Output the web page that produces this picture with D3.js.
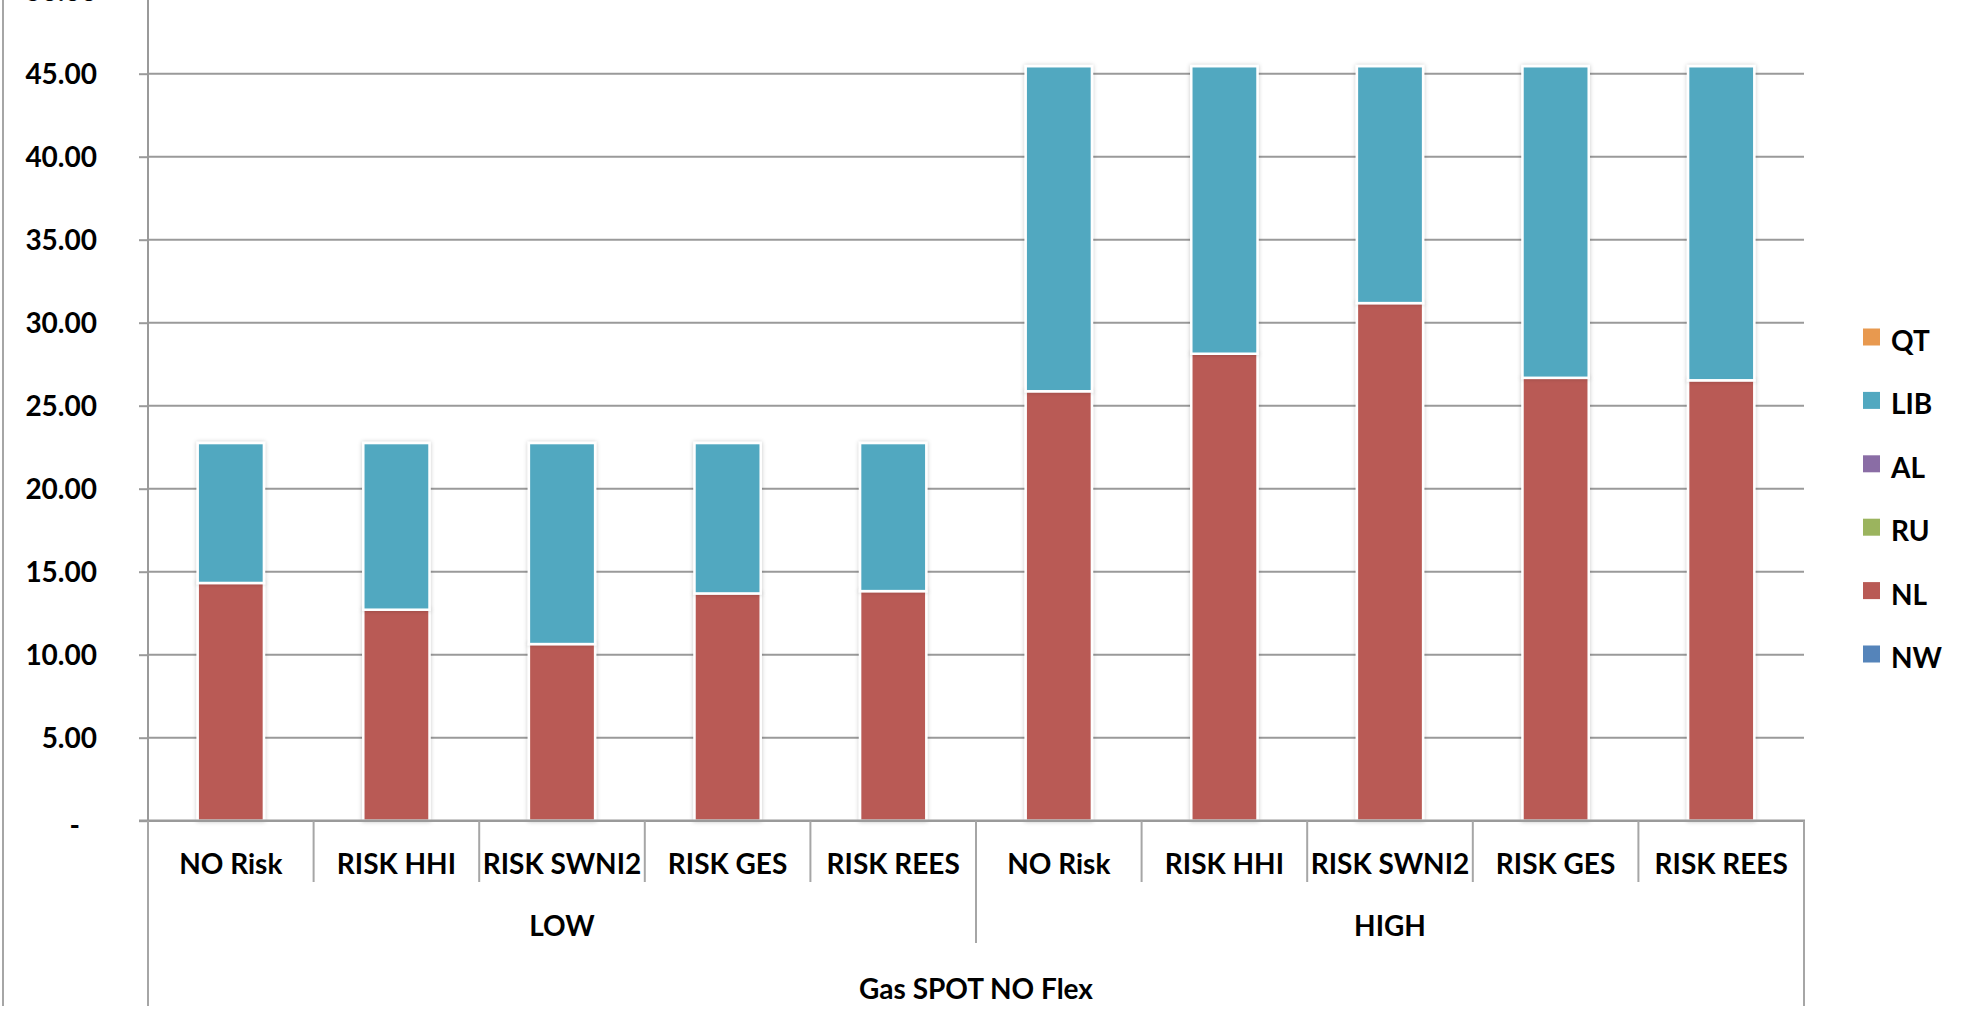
<!DOCTYPE html>
<html><head><meta charset="utf-8">
<script src="https://cdn.jsdelivr.net/npm/d3@7"></script>
<style>
html,body{margin:0;padding:0;background:#fff;overflow:hidden}
text{font-family:Lato,"Open Sans",sans-serif;font-weight:bold;fill:#000}
</style></head>
<body>
<script>
const categories = ["NO Risk","RISK HHI","RISK SWNI2","RISK GES","RISK REES"];
const groups = ["LOW","HIGH"];
const outerLabel = "Gas SPOT NO Flex";
const seriesKeys = ["NW","NL","RU","AL","LIB","QT"];
const legendOrder = ["QT","LIB","AL","RU","NL","NW"];
const NW  = [0,0,0,0,0, 0,0,0,0,0];
const NL  = [14.32,12.71,10.64,13.69,13.83, 25.87,28.13,31.18,26.68,26.53];
const RU  = [0,0,0,0,0, 0,0,0,0,0];
const AL  = [0,0,0,0,0, 0,0,0,0,0];
const LIB = [8.43,10.04,12.11,9.06,8.92, 19.58,17.32,14.27,18.77,18.92];
const QT  = [0,0,0,0,0, 0,0,0,0,0];
const yTicks = [0,5,10,15,20,25,30,35,40,45,50];
const colors = {NW:"#5584BA", NL:"#B95A55", RU:"#9BB45E", AL:"#8A6DA5", LIB:"#51A8C0", QT:"#E8994F"};

const W=1975,H=1014;
const x0=148, x1=1804, yBase=820.7;
const seriesVals = {NW,NL,RU,AL,LIB,QT};
const rows = [];
groups.forEach((g,gi)=>categories.forEach((c,ci)=>{
  const i=gi*categories.length+ci;
  const r={idx:i, group:g, cat:c};
  seriesKeys.forEach(k=>r[k]=seriesVals[k][i]);
  rows.push(r);
}));

const svg=d3.select("body").append("svg").attr("width",W).attr("height",H);
const defs=svg.append("defs");
const f=defs.append("filter").attr("id","sh").attr("x","-20%").attr("y","-5%").attr("width","140%").attr("height","110%");
f.append("feDropShadow").attr("dx",0).attr("dy",0).attr("stdDeviation",2.2).attr("flood-color","#000").attr("flood-opacity",0.22);

const x=d3.scaleBand().domain(rows.map(d=>d.idx)).range([x0,x1]).paddingInner(0.6).paddingOuter(0.3);
const y=d3.scaleLinear().domain([0,50]).range([yBase,yBase-50*16.6]);
const step=x.step();

// outer left border
svg.append("line").attr("x1",3).attr("x2",3).attr("y1",0).attr("y2",1006).attr("stroke","#A6A6A6").attr("stroke-width",2);

// gridlines
svg.append("g").selectAll("line").data(yTicks.filter(v=>v>0)).join("line")
  .attr("x1",x0).attr("x2",x1).attr("y1",d=>y(d)).attr("y2",d=>y(d))
  .attr("stroke","#9A9A9A").attr("stroke-width",2);

// y axis
const yAx=svg.append("g").attr("transform",`translate(${x0},0)`)
  .call(d3.axisLeft(y).tickValues(yTicks).tickSize(9).tickPadding(0).tickFormat(v=>v===0?"-":d3.format(".2f")(v)));
yAx.select(".domain").remove();
yAx.selectAll(".tick line").attr("stroke","#9A9A9A").attr("stroke-width",2);
yAx.selectAll(".tick text").attr("x",-51).attr("font-size",28).attr("font-family","Lato").attr("font-weight","bold").attr("fill","#000").attr("dy","0.35em");
yAx.selectAll(".tick").filter(d=>d===0).select("text").attr("x",-68).attr("dy","0.5em");
svg.append("line").attr("x1",x0).attr("x2",x0).attr("y1",0).attr("y2",1006).attr("stroke","#9A9A9A").attr("stroke-width",2);

// stacked bars
const stack=d3.stack().keys(seriesKeys)(rows);
svg.append("g").selectAll("g").data(stack).join("g")
  .attr("fill",d=>colors[d.key])
  .selectAll("rect").data(d=>d.filter(p=>p[1]-p[0]>0)).join("rect")
  .attr("x",d=>x(d.data.idx)).attr("width",x.bandwidth())
  .attr("y",d=>y(d[1])).attr("height",d=>y(d[0])-y(d[1]))
  .attr("stroke","#fff").attr("stroke-width",2.5)
  .attr("filter","url(#sh)");

// x axis line
svg.append("line").attr("x1",x0-9).attr("x2",x1+1).attr("y1",yBase).attr("y2",yBase).attr("stroke","#9A9A9A").attr("stroke-width",2.5);

// separators
const nC=categories.length;
const sep=d3.range(rows.length+1);
svg.append("g").selectAll("line").data(sep).join("line")
  .attr("x1",i=>x0+i*step).attr("x2",i=>x0+i*step)
  .attr("y1",yBase).attr("y2",i=>(i===0||i===rows.length)?1006:(i%nC===0?943:882))
  .attr("stroke","#A6A6A6").attr("stroke-width",2);

// category labels
svg.append("g").selectAll("text").data(rows).join("text")
  .attr("x",d=>x(d.idx)+x.bandwidth()/2).attr("y",864).attr("dy","0.35em")
  .attr("text-anchor","middle").attr("font-size",28).text(d=>d.cat);
// group labels
svg.append("g").selectAll("text").data(groups).join("text")
  .attr("x",(d,i)=>x0+(i*nC+nC/2)*step).attr("y",926).attr("dy","0.35em")
  .attr("text-anchor","middle").attr("font-size",28).text(d=>d);
svg.append("text").attr("x",(x0+x1)/2).attr("y",989).attr("dy","0.35em")
  .attr("text-anchor","middle").attr("font-size",28).text(outerLabel);

// legend
const lg=svg.append("g").selectAll("g").data(legendOrder).join("g")
  .attr("transform",(d,i)=>`translate(1863,${337+i*63.4})`);
lg.append("rect").attr("x",0).attr("y",-8.5).attr("width",17).attr("height",17).attr("fill",d=>colors[d]);
lg.append("text").attr("x",28).attr("y",4).attr("dy","0.36em").attr("font-size",28).text(d=>d);
</script>
</body></html>
